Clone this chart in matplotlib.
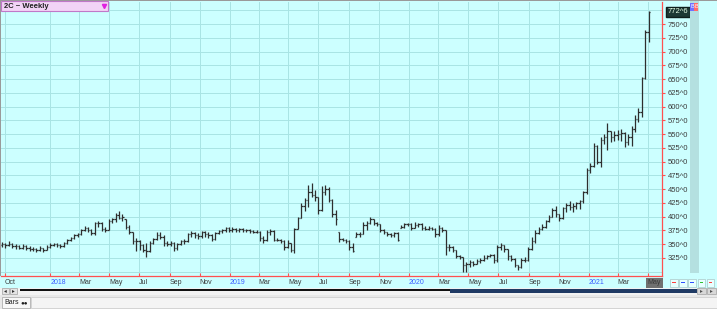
import pandas as pd
import numpy as np
import matplotlib
matplotlib.use('Agg')
import matplotlib.pyplot as plt
import matplotlib.dates as mdates
import matplotlib.transforms as mtransforms
from matplotlib.patches import Rectangle

# weekly bars, 2C (corn) - from week of 2017-09-25 to 2021-05-03
opens = [348, 350, 348, 351, 347, 346, 344, 347, 344, 341, 342, 339, 343, 340,
         345, 349, 350, 349, 346, 352, 358, 362, 366, 368, 375, 380, 376, 370, 388, 388, 378, 376, 392, 395,
         403, 398, 396, 382, 372, 355, 355, 348, 340, 338, 352, 360, 367, 364, 352, 350, 352, 343, 350, 356,
         356, 368, 370, 366, 365, 372, 368, 366, 360, 370, 374, 375,
         380, 376, 378, 376, 377, 376, 376, 374, 373, 372, 362, 358, 372, 374, 358, 358, 356, 345, 352, 340,
         378, 398, 420, 430, 445, 440, 435, 412, 445, 450, 430, 405, 372, 360, 358, 355, 345, 364, 368, 368,
         385, 388, 395, 388, 386, 376, 372, 368, 366, 370, 380, 382,
         386, 387, 380, 385, 387, 380, 378, 380, 378, 368, 380, 375, 345, 345, 340, 328, 326, 312, 315, 318,
         315, 320, 322, 325, 328, 330, 322, 345, 348, 342, 328, 324, 312, 308, 322, 322, 342, 356, 370, 378,
         382, 392, 400, 412, 405, 398, 415, 422, 418, 420, 424, 428, 445,
         484, 492, 528, 500, 540, 545, 555, 545, 548, 550, 552, 535, 545, 560, 578, 590, 652, 735]
highs = [354, 352, 355, 352, 350, 349, 351, 348, 346, 345, 344, 346, 344, 349,
         352, 353, 352, 350, 354, 360, 364, 369, 371, 378, 384, 382, 378, 390, 392, 390, 382, 395, 398, 407,
         410, 405, 396, 385, 372, 362, 358, 350, 352, 356, 362, 372, 372, 366, 355, 356, 354, 353, 358, 360,
         371, 374, 372, 370, 374, 374, 372, 368, 372, 376, 378, 382,
         382, 381, 380, 380, 379, 378, 377, 376, 375, 374, 365, 376, 377, 375, 362, 360, 358, 358, 352, 379,
         400, 425, 434, 457, 461, 448, 436, 455, 458, 454, 432, 412, 372, 362, 360, 358, 352, 372, 372, 390,
         392, 399, 396, 390, 387, 378, 373, 370, 372, 372, 385, 389,
         389, 389, 390, 389, 388, 383, 383, 381, 379, 385, 381, 376, 350, 346, 340, 330, 327, 318, 321, 320,
         323, 325, 330, 331, 333, 333, 349, 352, 349, 342, 330, 325, 313, 325, 326, 345, 363, 376, 381, 387,
         394, 403, 416, 420, 405, 418, 425, 428, 425, 427, 430, 447, 488,
         497, 534, 531, 545, 550, 570, 556, 556, 558, 559, 554, 550, 565, 585, 597, 654, 740, 773]
lows = [345, 344, 346, 343, 342, 341, 342, 340, 338, 338, 336, 338, 336, 339,
        343, 346, 345, 343, 345, 350, 356, 360, 364, 366, 374, 372, 366, 366, 382, 374, 372, 375, 388, 390,
        395, 392, 378, 368, 350, 338, 340, 336, 327, 335, 350, 358, 360, 346, 346, 346, 337, 340, 348, 350,
        354, 364, 362, 360, 362, 364, 362, 356, 358, 368, 370, 372,
        372, 373, 372, 373, 373, 372, 371, 370, 370, 356, 352, 356, 366, 355, 355, 352, 339, 343, 336, 334,
        378, 398, 410, 418, 436, 428, 405, 410, 440, 426, 400, 385, 354, 355, 352, 340, 335, 363, 364, 368,
        376, 386, 385, 383, 372, 369, 365, 363, 363, 356, 379, 380,
        383, 376, 380, 382, 376, 376, 376, 376, 363, 365, 372, 330, 338, 336, 325, 324, 300, 300, 309, 310,
        314, 316, 320, 324, 327, 316, 318, 340, 336, 322, 320, 309, 303, 306, 318, 320, 340, 352, 368, 376,
        379, 390, 399, 399, 392, 396, 408, 412, 408, 414, 414, 425, 442,
        480, 490, 496, 490, 532, 521, 536, 538, 540, 538, 527, 530, 528, 553, 572, 581, 650, 717]
closes = [350, 348, 351, 347, 346, 344, 347, 344, 341, 342, 339, 343, 340, 345,
          349, 350, 349, 346, 352, 358, 362, 366, 368, 375, 380, 376, 370, 388, 388, 378, 376, 392, 395, 403,
          398, 400, 382, 372, 355, 355, 348, 340, 338, 352, 360, 367, 364, 352, 350, 352, 343, 350, 356, 356,
          368, 370, 366, 365, 372, 368, 366, 360, 370, 374, 375, 380,
          376, 378, 376, 377, 376, 376, 374, 373, 372, 362, 358, 372, 374, 358, 358, 356, 345, 352, 340, 378,
          398, 420, 430, 445, 440, 435, 412, 445, 450, 430, 405, 395, 360, 358, 355, 345, 338, 368, 368, 385,
          388, 395, 388, 386, 376, 372, 368, 366, 370, 358, 382, 386,
          387, 380, 385, 387, 380, 378, 380, 378, 368, 380, 375, 345, 345, 340, 328, 326, 312, 315, 318, 315,
          320, 322, 325, 328, 330, 322, 345, 348, 342, 328, 324, 312, 308, 322, 322, 342, 356, 370, 378, 382,
          392, 400, 412, 405, 398, 415, 422, 418, 420, 424, 428, 445, 484,
          492, 528, 500, 540, 545, 555, 545, 548, 550, 552, 535, 545, 560, 578, 590, 652, 735, 772]

last_label = '772^6'

tick_dates = ['2017-10-01', '2018-01-01', '2018-03-01', '2018-05-01', '2018-07-01', '2018-09-01', '2018-11-01',
              '2019-01-01', '2019-03-01', '2019-05-01', '2019-07-01', '2019-09-01', '2019-11-01',
              '2020-01-01', '2020-03-01', '2020-05-01', '2020-07-01', '2020-09-01', '2020-11-01',
              '2021-01-01', '2021-03-01', '2021-05-01']
tick_labels = ['Oct', '2018', 'Mar', 'May', 'Jul', 'Sep', 'Nov', '2019', 'Mar', 'May', 'Jul', 'Sep', 'Nov',
               '2020', 'Mar', 'May', 'Jul', 'Sep', 'Nov', '2021', 'Mar', 'May']
price_ticks = [325, 350, 375, 400, 425, 450, 475, 500, 525, 550, 575, 600, 625, 650, 675, 700, 725, 750]

plt.rcParams['font.family'] = ['Liberation Sans', 'DejaVu Sans']

W, H = 717, 309
bg = '#ccffff'
fig = plt.figure(figsize=(W / 100, H / 100), dpi=100, facecolor=bg)


def box(x0, y0, x1, y1, **kw):
    # pixel box (top-left origin) in figure coords
    r = Rectangle((x0 / W, 1 - y1 / H), (x1 - x0) / W, (y1 - y0) / H, transform=fig.transFigure, **kw)
    fig.add_artist(r)
    return r


def txt(x, y, s, **kw):
    fig.text(x / W, 1 - y / H, s, **kw)


ax = fig.add_axes([1 / W, 33 / H, 661 / W, 274 / H])
ax.set_facecolor(bg)

dates = mdates.date2num(pd.date_range('2017-09-25', periods=len(closes), freq='7D'))
o = np.array(opens)
hi = np.array(highs)
lo = np.array(lows)
c = np.array(closes)
bar_col = '#2e2e2e'
ax.vlines(dates, lo, hi, color=bar_col, lw=0.9, zorder=3)
ax.hlines(o, dates - 3, dates, color=bar_col, lw=0.9, zorder=3)
ax.hlines(c, dates, dates + 3, color=bar_col, lw=0.9, zorder=3)

ax.set_xlim(mdates.datestr2num('2017-09-23'), mdates.datestr2num('2021-05-30'))
ax.set_ylim(292.3, 790)

# grid
for p in range(300, 800, 25):
    ax.axhline(p, color='#a8e4e4', lw=0.7, zorder=1)
tick_x = [mdates.datestr2num(d) for d in tick_dates]
for t in tick_x:
    ax.axvline(t, color='#a8e4e4', lw=0.7, zorder=1)

# axes / spines
for s in ['top', 'left']:
    ax.spines[s].set_visible(False)
for s in ['bottom', 'right']:
    ax.spines[s].set_color('#ff5050')
    ax.spines[s].set_linewidth(0.9)

ax.yaxis.tick_right()
ax.set_yticks(price_ticks)
ax.set_yticklabels([f'{p}^0' for p in price_ticks])
ax.tick_params(axis='y', colors='#ff5050', labelcolor='#3a3a3a', direction='out', length=2.5,
               width=0.8, pad=1.5, labelsize=5.5)

ax.set_xticks(tick_x)
ax.set_xticklabels(tick_labels)
ax.tick_params(axis='x', colors='#ff5050', direction='in', length=2.5, width=0.8, pad=2.5, labelsize=5)
for lab in ax.get_xticklabels():
    lab.set_horizontalalignment('left')
    lab.set_color('#3a5cff' if lab.get_text().isdigit() else '#3a3a3a')
ax.get_xticklabels()[-1].set_bbox(dict(facecolor='#707070', edgecolor='none', pad=1.2))

# last price label
trans = mtransforms.blended_transform_factory(ax.transAxes, ax.transData)
ax.text(1.008, closes[-1], last_label, transform=trans, fontsize=5.5, color='#e8ffe8', va='center',
        ha='left', clip_on=False, bbox=dict(facecolor='#1c3834', edgecolor='#0e1e1c', pad=1.2), zorder=5)

# frame bits
box(0, 0, W, 1.2, color='#9a9a9a', lw=0)
box(0, 0, 1, 276, color='#9a9a9a', lw=0)
box(690, 1, 699, 273, color='#b4e0e0', lw=0)
box(690, 3, 694, 11, color='#7070ff', lw=0)
box(694, 3, 698, 11, color='#ff6a6a', lw=0)
txt(692, 7, 'B', fontsize=4, color='white', ha='center', va='center')
txt(696, 7, 'B', fontsize=4, color='white', ha='center', va='center')

# title dropdown
box(1, 1, 108, 11, facecolor='#f2d4f6', edgecolor='#c078c8', lw=0.8)
txt(4, 6.3, '2C ~ Weekly', fontsize=5.5, fontweight='bold', color='#202020', va='center')
fig.add_artist(plt.Line2D([104 / W], [1 - 6 / H], marker='v', color='#e020e0', markersize=3,
                          transform=fig.transFigure))

# nav buttons on date row
nav_cols = ['#ff4040', '#3050ff', '#3050ff', '#30c030', '#ff4040']
for k, col in enumerate(nav_cols):
    x0 = 670 + k * 9.2
    box(x0, 278.5, x0 + 7.5, 287, facecolor='#e8ffff', edgecolor='#a8c8c8', lw=0.5)
    box(x0 + 2, 282.2, x0 + 5.5, 283.3, color=col, lw=0)

# scroll row
box(0, 287.5, W, 294.5, color='#f2f2f2', lw=0)
box(2, 288, 9, 294, facecolor='#e4e4e4', edgecolor='#a0a0a0', lw=0.5)
box(10, 288, 17, 294, facecolor='#e4e4e4', edgecolor='#a0a0a0', lw=0.5)
txt(5.5, 291, '◂', fontsize=4, color='#303030', ha='center', va='center')
txt(13.5, 291, '▸', fontsize=4, color='#303030', ha='center', va='center')
box(20, 289.3, 452, 291.3, color='#101010', lw=0)
box(450, 289, 697, 292.6, color='#1f3a64', lw=0)
box(697, 288, 706, 294, facecolor='#d8d8d8', edgecolor='#a0a0a0', lw=0.5)
box(707, 288, 716, 294, facecolor='#d8d8d8', edgecolor='#a0a0a0', lw=0.5)
txt(701.5, 291, '▸', fontsize=4, color='#505050', ha='center', va='center')
txt(711.5, 291, '▸', fontsize=4, color='#505050', ha='center', va='center')

# bottom tab row
box(0, 294.5, W, H, color='#e8e8e8', lw=0)
box(2, 297, 30, 308, facecolor='#f8f8f8', edgecolor='#b0b0b0', lw=0.6)
txt(4.5, 302.5, 'Bars', fontsize=5, color='#202020', va='center')
txt(20, 302.5, '●●', fontsize=4.5, color='#202020', va='center')
box(31, 297, W, 308, facecolor='#f4f4f4', edgecolor='#d0d0d0', lw=0.6)

fig.savefig('out.png', dpi=100, facecolor=bg)
